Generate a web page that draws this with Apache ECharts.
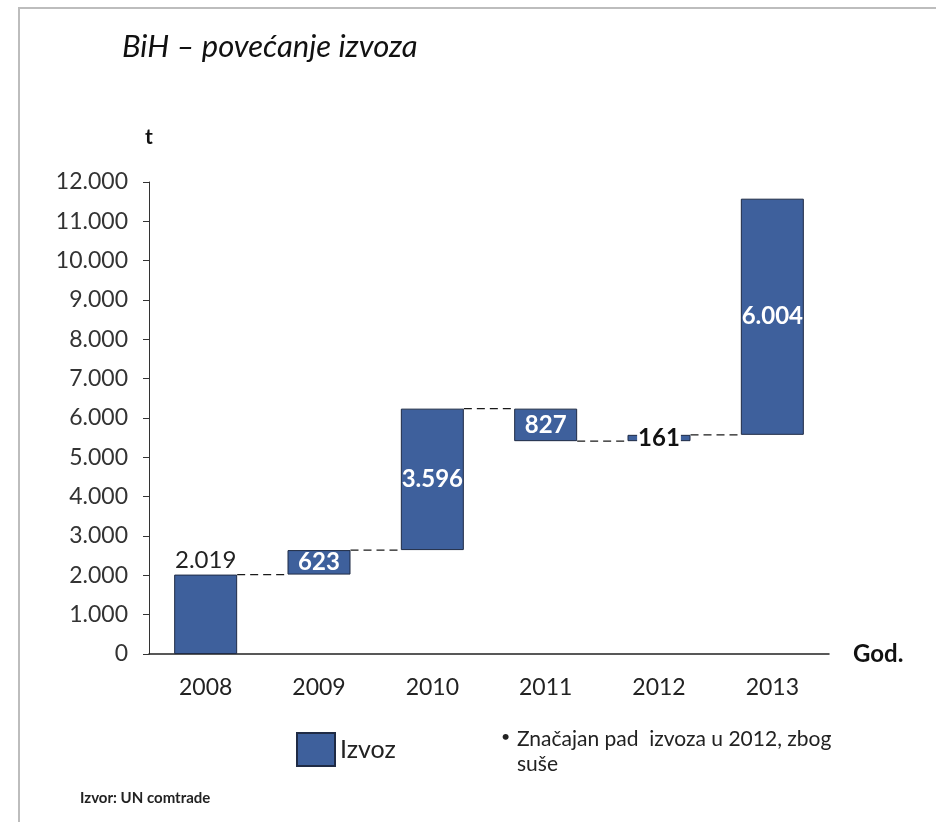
<!DOCTYPE html>
<html>
<head>
<meta charset="utf-8">
<script src="https://cdn.jsdelivr.net/npm/echarts@6/dist/echarts.min.js"></script>
<style>
  html, body { margin: 0; padding: 0; background: #fff; }
  #chart { width: 936px; height: 822px; }
</style>
</head>
<body>
<div id="chart"></div>
<script>
// podaci
const years = ['2008', '2009', '2010', '2011', '2012', '2013'];
const changes = [2019, 623, 3596, -827, 161, 6004];
const yTicks = { min: 0, max: 12000, step: 1000 };

const fmt = v => String(Math.abs(v)).replace(/\B(?=(\d{3})+(?!\d))/g, '.');

// waterfall: nevidljiva baza + vidljivi dio
const baseData = [];
const barData = [];
const levels = [];
let total = 0;
changes.forEach((d, i) => {
  const start = total;
  total += d;
  baseData.push(Math.min(start, total));
  barData.push(Math.abs(d));
  levels.push([i, total]);
});
levels.pop();

const FONT = 'Lato';
const BAR_W = 63;
const barColor = '#3e609c';

const chart = echarts.init(document.getElementById('chart'));

chart.setOption({
  backgroundColor: '#fff',
  animation: false,
  textStyle: { fontFamily: FONT },
  grid: { left: 149, right: 107, top: 182, bottom: 168 },
  legend: {
    data: ['Izvoz'],
    left: 291,
    top: 727,
    icon: 'rect',
    itemWidth: 38,
    itemHeight: 33,
    itemGap: 6,
    textStyle: { fontSize: 25, color: '#222', fontFamily: FONT }
  },
  xAxis: {
    type: 'category',
    data: years,
    name: 'God.',
    nameLocation: 'end',
    nameGap: 24,
    nameTextStyle: { fontSize: 24, fontWeight: 'bold', color: '#111', verticalAlign: 'middle' },
    axisLine: { lineStyle: { color: '#222', width: 1.5 } },
    axisTick: { show: false },
    axisLabel: { fontSize: 23, color: '#222', margin: 22 }
  },
  yAxis: {
    type: 'value',
    min: yTicks.min,
    max: yTicks.max,
    interval: yTicks.step,
    name: 't',
    nameLocation: 'end',
    nameGap: 34,
    nameTextStyle: { fontSize: 21, fontWeight: 'bold', color: '#111', align: 'center' },
    axisLine: { show: true, lineStyle: { color: '#333', width: 1 } },
    axisTick: { show: true, length: 6, lineStyle: { color: '#333' } },
    splitLine: { show: false },
    axisLabel: { fontSize: 23, color: '#333', margin: 21, formatter: v => fmt(v) }
  },
  series: [
    {
      name: 'base',
      type: 'bar',
      stack: 'w',
      barWidth: BAR_W,
      itemStyle: { color: 'transparent' },
      emphasis: { disabled: true },
      data: baseData
    },
    {
      name: 'Izvoz',
      type: 'bar',
      stack: 'w',
      barWidth: BAR_W,
      itemStyle: { color: barColor, borderColor: '#1f2b45', borderWidth: 1 },
      label: {
        show: true,
        position: 'inside',
        color: '#fff',
        fontWeight: 'bold',
        fontSize: 24,
        formatter: p => fmt(changes[p.dataIndex])
      },
      data: barData.map((v, i) => {
        if (i === 0) {
          return { value: v, label: { position: 'top', color: '#222', fontWeight: 'normal', distance: 2 } };
        }
        if (i === 4) {
          return { value: v, label: { color: '#111', backgroundColor: '#fff', padding: [0, 1] } };
        }
        return v;
      })
    },
    {
      name: 'veze',
      type: 'custom',
      silent: true,
      z: 1,
      renderItem: (params, api) => {
        const i = api.value(0);
        const lvl = api.value(1);
        const a = api.coord([i, lvl]);
        const b = api.coord([i + 1, lvl]);
        return {
          type: 'line',
          shape: { x1: a[0] + BAR_W / 2, y1: a[1], x2: b[0] - BAR_W / 2, y2: b[1] },
          style: { stroke: '#1a1a1a', lineWidth: 1.4, lineDash: [8, 5] }
        };
      },
      data: levels
    }
  ],
  graphic: [
    {
      type: 'rect',
      shape: { x: 19, y: 8, width: 940, height: 840 },
      style: { fill: 'none', stroke: '#bdbdbd', lineWidth: 2 },
      silent: true
    },
    {
      type: 'text',
      left: 122,
      top: 31,
      style: { text: 'BiH – povećanje izvoza', font: 'italic 31px ' + FONT, fill: '#111' }
    },
    {
      type: 'text',
      left: 501,
      top: 729,
      style: { text: '•', font: '16px ' + FONT, fill: '#222' }
    },
    {
      type: 'text',
      left: 517,
      top: 727,
      style: { text: 'Značajan pad  izvoza u 2012, zbog\nsuše', font: '21px ' + FONT, fill: '#222', lineHeight: 25 }
    },
    {
      type: 'text',
      left: 80,
      top: 791,
      style: { text: 'Izvor: UN comtrade', font: 'bold 15px ' + FONT, fill: '#222' }
    }
  ]
});
</script>
</body>
</html>
